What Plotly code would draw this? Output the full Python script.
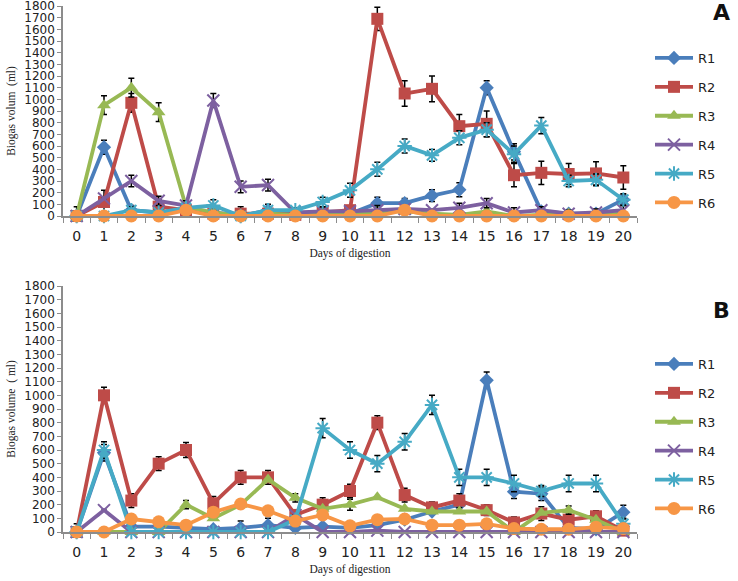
import plotly.graph_objects as go

days = [str(d) for d in range(21)]
series_names = ["R1", "R2", "R3", "R4", "R5", "R6"]
colors = ["#4A7EBB", "#BE4B48", "#98B954", "#7D60A0", "#46AAC5", "#F79646"]
symbols = ["diamond", "square", "triangle-up", "x-thin-open", "asterisk-open", "circle"]
sizes = [11, 12, 12, 12, 12, 13]

# Panel A values (ml)
a_r1 = [0, 590, 50, 30, 50, 30, 0, 50, 20, 30, 20, 110, 110, 175, 225, 1100, 550, 40, 20, 20, 140]
a_r2 = [0, 120, 970, 80, 50, 20, 20, 20, 10, 30, 50, 1690, 1050, 1090, 770, 790, 350, 370, 360, 365, 330]
a_r3 = [0, 950, 1100, 890, 80, 30, 0, 20, 10, 10, 10, 40, 40, 20, 10, 40, 0, 10, 20, 10, 20]
a_r4 = [0, 150, 300, 130, 90, 990, 250, 265, 30, 40, 40, 50, 60, 50, 70, 110, 30, 50, 20, 30, 50]
a_r5 = [0, 0, 50, 30, 70, 90, 0, 50, 50, 120, 220, 400, 600, 520, 670, 740, 530, 775, 300, 310, 140]
a_r6 = [0, 0, 0, 0, 50, 0, 0, 0, 0, 0, 0, 0, 50, 0, 0, 0, 0, 0, 0, 0, 0]

# Panel A error bars (ml)
a_e1 = [80, 60, 40, 0, 0, 0, 0, 50, 0, 40, 0, 50, 40, 50, 60, 60, 70, 30, 30, 30, 40]
a_e2 = [0, 100, 80, 60, 0, 0, 60, 0, 0, 0, 0, 100, 110, 110, 100, 110, 100, 100, 90, 100, 100]
a_e3 = [0, 80, 80, 80, 0, 0, 0, 0, 0, 0, 0, 0, 0, 0, 0, 0, 0, 0, 0, 0, 0]
a_e4 = [0, 0, 50, 40, 40, 60, 50, 50, 40, 40, 0, 40, 0, 0, 40, 40, 40, 30, 30, 30, 40]
a_e5 = [0, 0, 30, 0, 0, 50, 0, 0, 0, 40, 60, 60, 60, 50, 60, 60, 70, 70, 50, 50, 50]
a_e6 = [0] * 21

# Panel B values (ml)
b_r1 = [0, 580, 40, 40, 30, 20, 30, 50, 30, 40, 30, 50, 90, 150, 200, 1110, 295, 280, 30, 20, 145]
b_r2 = [0, 1000, 230, 500, 600, 210, 400, 400, 125, 200, 300, 800, 270, 180, 230, 160, 70, 135, 90, 115, 10]
b_r3 = [0, 0, 0, 0, 200, 100, 200, 385, 250, 170, 200, 255, 170, 150, 150, 150, 0, 140, 160, 90, 0]
b_r4 = [0, 160, 0, 0, 0, 0, 0, 0, 125, 0, 0, 10, 0, 0, 0, 0, 0, 0, 0, 0, 0]
b_r5 = [0, 600, 0, 0, 0, 0, 0, 0, 90, 760, 600, 500, 660, 930, 400, 400, 355, 300, 355, 355, 60]
b_r6 = [0, 0, 95, 75, 50, 145, 205, 155, 80, 125, 45, 90, 95, 50, 50, 60, 25, 20, 20, 35, 25]

# Panel B error bars (ml)
b_e1 = [60, 60, 0, 0, 50, 0, 50, 50, 0, 0, 0, 0, 0, 0, 0, 60, 50, 50, 0, 0, 50]
b_e2 = [0, 60, 50, 50, 55, 50, 50, 50, 0, 50, 50, 50, 50, 40, 50, 40, 40, 50, 40, 40, 0]
b_e3 = [0, 0, 0, 0, 30, 0, 0, 0, 30, 0, 40, 0, 0, 0, 0, 0, 0, 0, 30, 0, 0]
b_e4 = [0] * 21
b_e5 = [0, 60, 0, 0, 0, 0, 0, 0, 0, 70, 60, 60, 60, 70, 60, 60, 60, 40, 60, 60, 40]
b_e6 = [0] * 21

panel_a = [a_r1, a_r2, a_r3, a_r4, a_r5, a_r6]
panel_a_err = [a_e1, a_e2, a_e3, a_e4, a_e5, a_e6]
panel_b = [b_r1, b_r2, b_r3, b_r4, b_r5, b_r6]
panel_b_err = [b_e1, b_e2, b_e3, b_e4, b_e5, b_e6]

y_ticks = list(range(0, 1801, 100))

fig = go.Figure()

for vals_list, err_list, xa, ya, leg in [
    (panel_a, panel_a_err, "x", "y", "legend"),
    (panel_b, panel_b_err, "x2", "y2", "legend2"),
]:
    for i, name in enumerate(series_names):
        open_sym = symbols[i].endswith("open")
        fig.add_trace(go.Scatter(
            x=days, y=vals_list[i], name=name, mode="lines+markers",
            xaxis=xa, yaxis=ya, legend=leg, legendgroup=f"{leg}{name}",
            line=dict(color=colors[i], width=3.8),
            marker=dict(symbol=symbols[i], size=sizes[i], color=colors[i],
                        line=dict(color=colors[i], width=2 if open_sym else 0)),
            error_y=dict(type="data", array=err_list[i], visible=True,
                         color="black", thickness=1.5, width=3),
            cliponaxis=False,
        ))

W, H = 738, 581
x_dom = [63 / W, 637 / W]
ya_dom = [(H - 216) / H, (H - 6) / H]
yb_dom = [(H - 532) / H, (H - 286) / H]

tick_font = dict(family="DejaVu Sans", size=12, color="#222")
title_font = dict(family="Liberation Serif", size=11.5, color="#222")

def xaxis_cfg(anchor):
    return dict(
        domain=x_dom, anchor=anchor, type="category", range=[-0.5, 20.5],
        automargin=False, ticklabeloverflow="allow",
        showline=True, linecolor="#8C8C8C", linewidth=1.5,
        ticks="outside", tickson="boundaries", ticklen=5, tickcolor="#8C8C8C",
        ticklabelstandoff=6, showgrid=False, zeroline=False,
        tickfont=dict(family="DejaVu Sans", size=14, color="#222"),
        title=dict(text="Days of digestion", font=title_font, standoff=6),
    )

def yaxis_cfg(anchor, dom, title):
    return dict(
        domain=dom, anchor=anchor, range=[0, 1800], tickvals=y_ticks,
        automargin=False, ticklabeloverflow="allow",
        showline=True, linecolor="#8C8C8C", linewidth=1.5,
        ticks="outside", ticklen=4, tickcolor="#8C8C8C",
        showgrid=False, zeroline=False, tickfont=tick_font,
        title=dict(text=title, font=title_font, standoff=6),
    )

leg_common = dict(
    font=dict(family="DejaVu Sans", size=13, color="#222"),
    bgcolor="rgba(0,0,0,0)", tracegroupgap=9, itemwidth=38,
    xanchor="left", yanchor="top",
)

fig.update_layout(
    width=W, height=H,
    margin=dict(l=0, r=0, t=0, b=0, autoexpand=False),
    paper_bgcolor="white", plot_bgcolor="white",
    xaxis=xaxis_cfg("y"),
    yaxis=yaxis_cfg("x", ya_dom, "Biogas volum  (ml)"),
    xaxis2=xaxis_cfg("y2"),
    yaxis2=yaxis_cfg("x2", yb_dom, "Biogas volume  ( ml)"),
    legend=dict(x=650 / W, y=(H - 43) / H, **leg_common),
    legend2=dict(x=650 / W, y=(H - 349) / H, **leg_common),
    showlegend=True,
    annotations=[
        dict(text="<b>A</b>", x=721 / W, y=(H - 13) / H, xref="paper", yref="paper",
             xanchor="center", yanchor="middle", showarrow=False,
             font=dict(family="DejaVu Sans", size=22, color="#111")),
        dict(text="<b>B</b>", x=721 / W, y=(H - 310) / H, xref="paper", yref="paper",
             xanchor="center", yanchor="middle", showarrow=False,
             font=dict(family="DejaVu Sans", size=22, color="#111")),
    ],
)

fig.write_html(
    "out.html",
    config={"displayModeBar": False},
    post_script="document.body.style.margin='0';document.body.style.overflow='hidden';",
)
